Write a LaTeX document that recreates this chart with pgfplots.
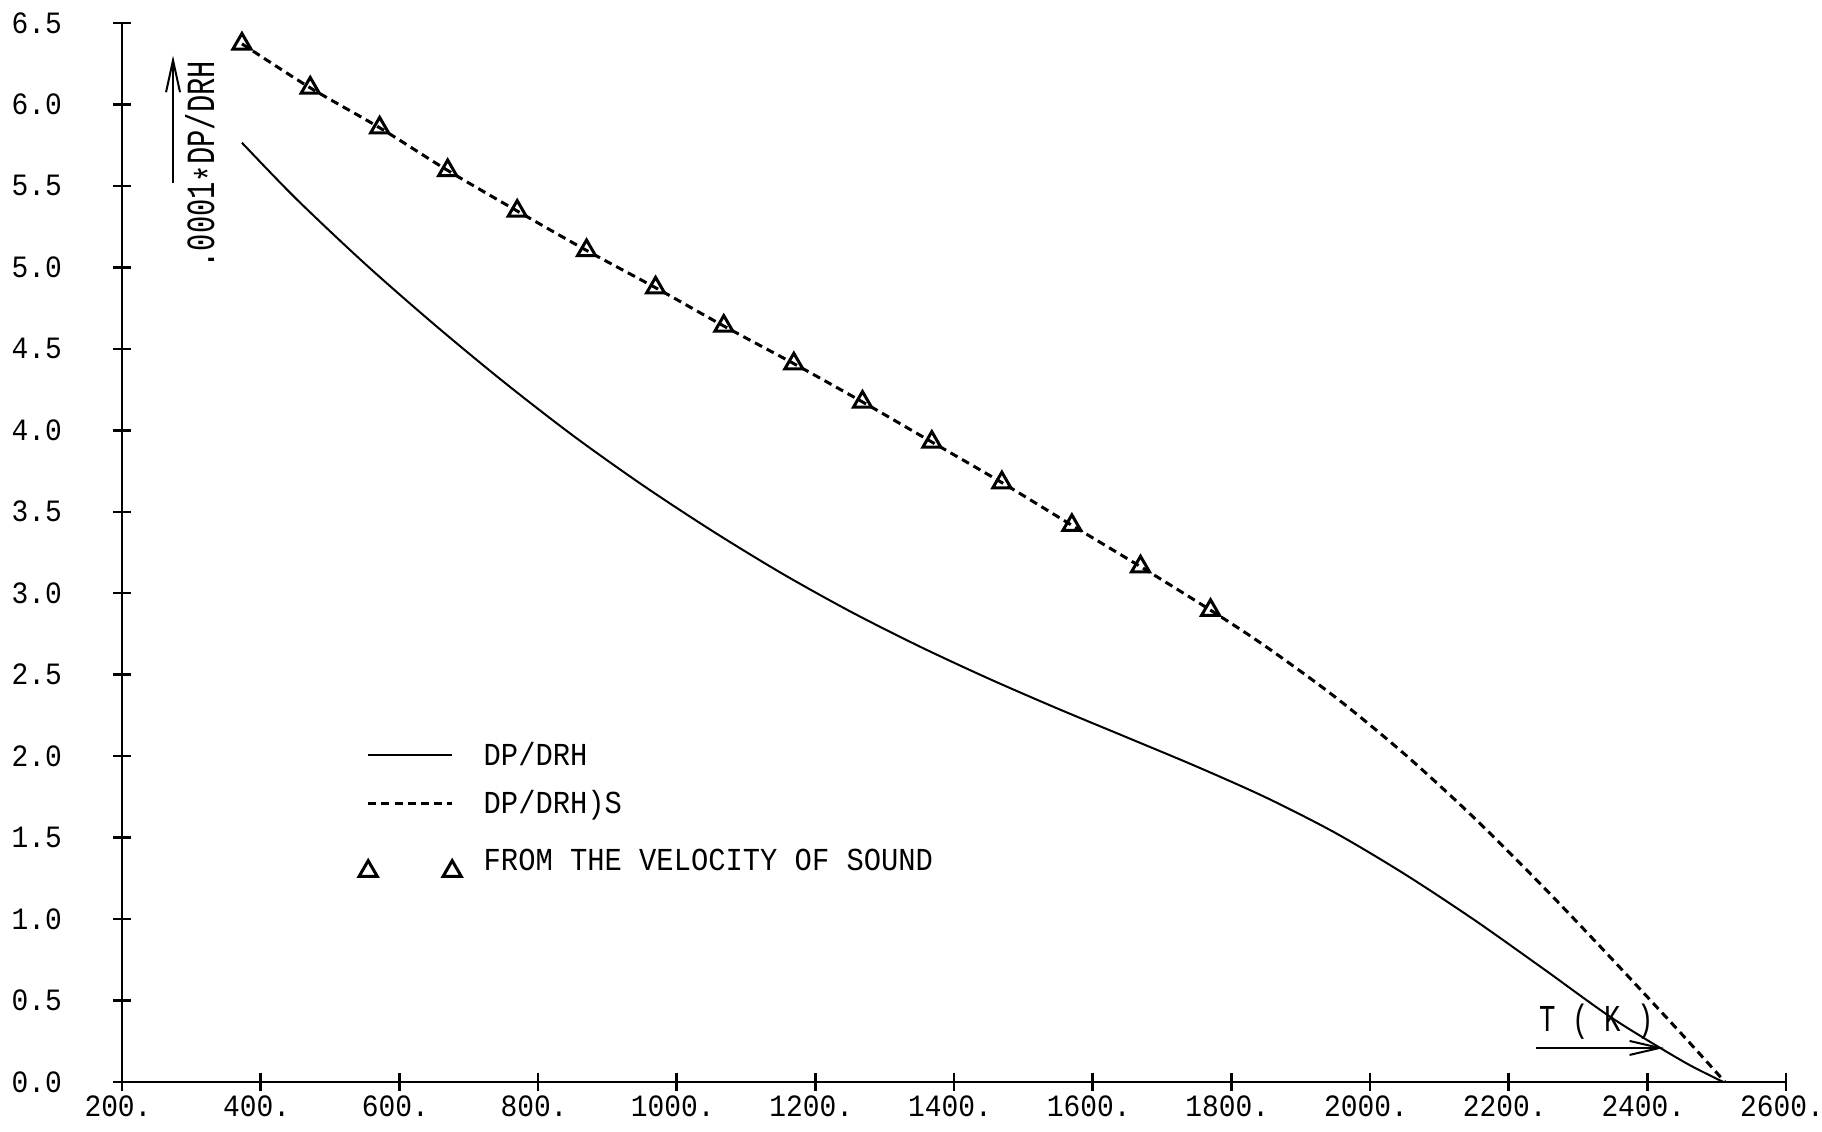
\documentclass[border=0pt]{standalone}
\usepackage{fontspec}
\usepackage{pgfplots}
\usepackage{pgfplotstable}
\pgfplotsset{compat=1.18}
\usetikzlibrary{arrows.meta}
\setmainfont{Liberation Mono}[FakeStretch=0.9]
\newfontfamily\titlefont{Liberation Mono}[FakeStretch=0.72]

\pgfplotsset{
  long line legend/.style={legend image code/.code={\draw[##1] (0pt,0pt) -- (42pt,0pt);}},
  twin mark legend/.style={legend image code/.code={\draw[##1] plot[only marks] coordinates {(0pt,-7.5pt) (42pt,-7.5pt)};}},
}

% dP/drho_H along the curve
\pgfplotstableread{
T v
373 5.765
450 5.426
550 5.024
650 4.651
750 4.299
850 3.969
950 3.666
1050 3.386
1150 3.126
1250 2.889
1350 2.674
1450 2.476
1550 2.291
1650 2.114
1750 1.936
1850 1.746
1950 1.529
2050 1.276
2150 0.996
2250 0.695
2350 0.390
2450 0.130
2500 0.020
2510 0.000
}\dpdrh

% isentropic derivative
\pgfplotstableread{
T v
373 6.372
471.5 6.102
571.6 5.857
669.7 5.595
770 5.346
870 5.104
969.6 4.875
1068 4.640
1169 4.409
1268 4.174
1368 3.928
1469 3.679
1570 3.417
1669 3.163
1770 2.896
1850 2.672
1950 2.362
2050 2.012
2150 1.622
2250 1.197
2350 0.750
2450 0.292
2512 0.000
}\dpdrhs

% values from the velocity of sound
\pgfplotstableread{
T v
373 6.372
471.5 6.102
571.6 5.857
669.7 5.595
770 5.346
870 5.104
969.6 4.875
1068 4.640
1169 4.409
1268 4.174
1368 3.928
1469 3.679
1570 3.417
1669 3.163
1770 2.896
}\sound

\begin{document}
\begin{tikzpicture}
\begin{axis}[
  name=ax,
  width=832pt, height=529.5pt, scale only axis,
  xmin=200, xmax=2600, ymin=0, ymax=6.5,
  axis x line*=bottom, axis y line*=left,
  axis line style={line width=1.2pt},
  xtick={200,400,600,800,1000,1200,1400,1600,1800,2000,2200,2400,2600},
  xticklabels={200.,400.,600.,800.,1000.,1200.,1400.,1600.,1800.,2000.,2200.,2400.,2600.},
  ytick={0,0.5,1,1.5,2,2.5,3,3.5,4,4.5,5,5.5,6,6.5},
  yticklabels={0.0,0.5,1.0,1.5,2.0,2.5,3.0,3.5,4.0,4.5,5.0,5.5,6.0,6.5},
  tick align=center, major tick length=9pt,
  every tick/.style={black, line width=1.2pt},
  tick label style={font=\fontsize{15.5}{15.5}\selectfont},
  xticklabel style={anchor=north, xshift=-2pt, yshift=1pt},
  yticklabel style={anchor=east, xshift=-22pt},
  clip=false,
  legend cell align=left,
  legend style={
    draw=none, fill=none, inner sep=0pt,
    at={(axis cs:541.5,2.09)}, anchor=north west,
    row sep=11.2pt,
    font=\fontsize{16}{16}\selectfont,
    nodes={inner sep=0pt},
    /tikz/every odd column/.append style={column sep=11.25pt},
  },
]
\addplot[black, line width=1pt, smooth, tension=0.5, long line legend]
  table[x=T, y=v] {\dpdrh};
\addlegendentry{DP/DRH}
\addplot[black, line width=1.5pt, dash pattern=on 4pt off 2.6pt, smooth, tension=0.5,
  long line legend]
  table[x=T, y=v] {\dpdrhs};
\addlegendentry{DP/DRH)S}
\addplot[black, only marks, mark=triangle, mark size=5.2pt,
  mark options={line width=1.5pt}, twin mark legend]
  table[x=T, y=v] {\sound};
\addlegendentry{\rule{0pt}{15.5pt}FROM THE VELOCITY OF SOUND}

% axis titles with their arrows
\draw[line width=1pt, -{Straight Barb[length=16pt, width=7pt, line width=1pt]}]
  (axis cs:273.6,5.515) -- (axis cs:273.6,6.30);
\node[rotate=90, font=\titlefont\fontsize{20}{20}\selectfont, inner sep=0pt]
  at (axis cs:318.4,5.63) {.0001\raisebox{-0.22em}{*}DP/DRH};
\draw[line width=1pt, -{Straight Barb[length=15pt, width=7pt, line width=1pt]}]
  (axis cs:2240,0.209) -- (axis cs:2424,0.209);
\node[font=\titlefont\fontsize{19}{19}\selectfont, inner sep=0pt]
  at (axis cs:2327,0.368) {T ( K )};
\end{axis}
\pgfresetboundingbox
\path[use as bounding box] ([shift={(-61pt,-25pt)}]ax.south west)
  rectangle ([shift={(18pt,11.5pt)}]ax.north east);
\end{tikzpicture}
\end{document}
